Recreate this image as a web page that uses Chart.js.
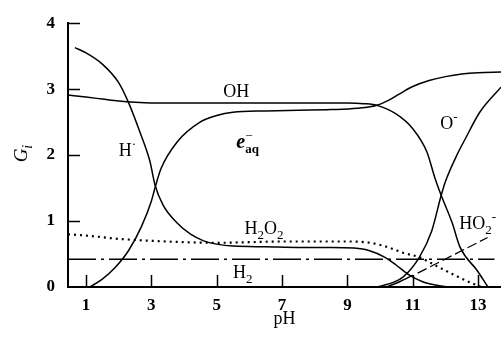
<!DOCTYPE html>
<html>
<head>
<meta charset="utf-8">
<script src="https://cdn.jsdelivr.net/npm/chart.js@4.4.0/dist/chart.umd.min.js"></script>
<style>
  html, body { margin: 0; padding: 0; background: #fff; }
  #wrap { width: 501px; height: 337px; }
</style>
</head>
<body>
<div id="wrap"><canvas id="c" width="501" height="337"></canvas></div>
<script>
// tick values
const xTicks = [1, 3, 5, 7, 9, 11, 13];
const yTicks = [0, 1, 2, 3, 4];

// H atom
const phH = [0.66, 1.0, 1.5, 2.0, 2.3, 2.65, 2.96, 3.11, 3.36, 3.79, 4.2, 4.6, 5.0, 5.5, 6.5, 7.5, 8.5, 9.2, 9.68, 10.15, 10.5, 10.9, 11.3, 11.7, 12.1];
const gH  = [3.63, 3.55, 3.38, 3.1, 2.8, 2.35, 1.9, 1.55, 1.24, 0.97, 0.8, 0.7, 0.65, 0.62, 0.61, 0.6, 0.6, 0.59, 0.55, 0.45, 0.33, 0.18, 0.08, 0.03, 0];

// hydrated electron
const phE = [1.12, 1.5, 1.9, 2.3, 2.7, 3.0, 3.11, 3.3, 3.79, 4.49, 5.0, 5.5, 6.5, 7.5, 8.5, 9.3, 9.93, 10.3, 10.7, 11.0, 11.5, 12.0, 12.5, 13.0, 13.7];
const gE  = [0, 0.12, 0.3, 0.55, 0.92, 1.3, 1.5, 1.8, 2.2, 2.5, 2.6, 2.65, 2.67, 2.68, 2.69, 2.71, 2.76, 2.84, 2.96, 3.04, 3.13, 3.19, 3.23, 3.25, 3.26];

// OH
const phOH = [0.45, 1.0, 1.5, 2.0, 2.5, 3.0, 4.0, 5.0, 6.0, 7.0, 8.0, 9.0, 9.5, 9.93, 10.5, 11.0, 11.43, 11.68, 11.87, 12.2, 12.45, 12.97, 13.3];
const gOH  = [2.91, 2.88, 2.85, 2.82, 2.8, 2.79, 2.79, 2.79, 2.79, 2.79, 2.79, 2.79, 2.78, 2.75, 2.62, 2.4, 2.05, 1.65, 1.39, 0.98, 0.6, 0.25, 0];

// O-
const phO = [9.9, 10.4, 10.7, 11.2, 11.58, 11.87, 12.0, 12.35, 12.6, 13.05, 13.7];
const gO  = [0, 0.07, 0.15, 0.45, 0.85, 1.39, 1.6, 2.0, 2.24, 2.65, 3.03];

// H2O2
const phH2O2 = [0.45, 1.0, 2.0, 3.0, 4.0, 5.0, 6.0, 7.0, 8.0, 9.0, 9.7, 10.2, 10.7, 11.2, 11.8, 12.4, 12.8, 13.1];
const gH2O2  = [0.80, 0.78, 0.73, 0.70, 0.68, 0.67, 0.68, 0.69, 0.69, 0.69, 0.67, 0.61, 0.52, 0.45, 0.3, 0.15, 0.06, 0];

// H2
const phH2 = [0.45, 13.5];
const gH2  = [0.42, 0.42];

// HO2-
const phHO2 = [10.2, 10.6, 11.0];
const gHO2  = [0, 0.08, 0.18];

// pointer from the HO2- label to its curve
const phPtr = [11.15, 13.29];
const gPtr  = [0.21, 0.75];

const pts = (xs, ys) => xs.map((x, i) => ({ x: x, y: ys[i] }));
const SERIF = '"Liberation Serif", "DejaVu Serif", serif';

function curve(xs, ys, extra) {
    return Object.assign({
        data: pts(xs, ys),
        borderColor: '#000',
        borderWidth: 1.5,
        pointRadius: 0,
        fill: false,
        cubicInterpolationMode: 'monotone'
    }, extra || {});
}

// text pieces: t, italic, bold, sub, sup, stay (don't advance)
const curveLabels = [
    { x: 5.2, y: 2.88, parts: [{ t: 'OH' }] },
    { x: 2.0, y: 1.99, parts: [{ t: 'H' }, { t: '·', sup: true }] },
    { x: 5.6, y: 2.11, parts: [{ t: 'e', italic: true, bold: true, big: true }, { t: '−', sup: true, stay: true }, { t: 'aq', sub: true, bold: true }] },
    { x: 11.84, y: 2.40, parts: [{ t: 'O' }, { t: '-', sup: true }] },
    { x: 5.85, y: 0.81, parts: [{ t: 'H' }, { t: '2', sub: true }, { t: 'O' }, { t: '2', sub: true }] },
    { x: 5.5, y: 0.13, parts: [{ t: 'H' }, { t: '2', sub: true }] },
    { x: 12.42, y: 0.88, parts: [{ t: 'HO' }, { t: '2', sub: true }, { t: '-', sup: true, stay: true }] }
];

function drawParts(ctx, parts, x, y, size) {
    let cx = x;
    parts.forEach(p => {
        const small = p.sub || p.sup;
        const s = small ? Math.round(size * 0.72) : (p.big ? size + 2 : size);
        ctx.font = (p.italic ? 'italic ' : '') + (p.bold ? 'bold ' : '') + s + 'px ' + SERIF;
        const dy = p.sub ? size * 0.28 : p.sup ? -size * 0.42 : 0;
        ctx.fillText(p.t, cx, y + dy);
        if (!p.stay) cx += ctx.measureText(p.t).width;
    });
}

const decorations = {
    id: 'decorations',
    afterDatasetsDraw(chart) {
        const { ctx, scales: { x, y } } = chart;
        ctx.save();
        ctx.strokeStyle = '#000';
        ctx.lineWidth = 1.5;
        // ticks point inward
        xTicks.forEach(v => {
            const px = Math.round(x.getPixelForValue(v)) + 0.5;
            ctx.beginPath();
            ctx.moveTo(px, y.bottom);
            ctx.lineTo(px, y.bottom - 12);
            ctx.stroke();
        });
        yTicks.forEach(v => {
            if (v === 0) return;
            const py = Math.round(y.getPixelForValue(v)) + 0.5;
            ctx.beginPath();
            ctx.moveTo(x.left, py);
            ctx.lineTo(x.left + 12, py);
            ctx.stroke();
        });

        ctx.fillStyle = '#000';
        ctx.textBaseline = 'alphabetic';
        ctx.textAlign = 'left';
        curveLabels.forEach(l => {
            drawParts(ctx, l.parts, x.getPixelForValue(l.x), y.getPixelForValue(l.y), 18);
        });

        // y axis title G_i
        ctx.translate(27, 153);
        ctx.rotate(-Math.PI / 2);
        ctx.font = 'italic 19px ' + SERIF;
        const w = ctx.measureText('G').width + 5;
        drawParts(ctx, [{ t: 'G', italic: true }, { t: 'i', italic: true, sub: true }], -w / 2, 0, 19);
        ctx.restore();
    }
};

new Chart(document.getElementById('c'), {
    type: 'line',
    data: {
        datasets: [
            curve(phH, gH),
            curve(phE, gE),
            curve(phOH, gOH),
            curve(phO, gO),
            curve(phH2O2, gH2O2, { borderWidth: 2.2, borderDash: [2, 4] }),
            curve(phH2, gH2, { borderWidth: 1.5, borderDash: [28, 5, 3, 5], cubicInterpolationMode: 'default' }),
            curve(phHO2, gHO2),
            curve(phPtr, gPtr, { borderWidth: 1.2, borderDash: [10, 4], cubicInterpolationMode: 'default' })
        ]
    },
    plugins: [decorations],
    options: {
        responsive: false,
        animation: false,
        layout: { padding: { left: 0, top: 20, right: 0, bottom: 0 } },
        plugins: { legend: { display: false }, tooltip: { enabled: false } },
        scales: {
            x: {
                type: 'linear',
                min: 0.45,
                max: 13.7,
                afterFit: s => { s.height = 50; },
                afterBuildTicks: s => { s.ticks = xTicks.map(v => ({ value: v })); },
                grid: { display: false, drawTicks: false },
                border: { display: true, color: '#000', width: 2 },
                ticks: { color: '#000', padding: 8, maxRotation: 0, font: { family: SERIF, size: 17, weight: 'bold' } },
                title: { display: true, text: 'pH', color: '#000', padding: { top: 0, bottom: 7 }, font: { family: SERIF, size: 18 } }
            },
            y: {
                min: 0,
                max: 4,
                afterFit: s => { s.width = 68; },
                afterBuildTicks: s => { s.ticks = yTicks.map(v => ({ value: v })); },
                grid: { display: false, drawTicks: false },
                border: { display: true, color: '#000', width: 2 },
                ticks: { color: '#000', padding: 13, font: { family: SERIF, size: 17, weight: 'bold' } }
            }
        }
    }
});
</script>
</body>
</html>
